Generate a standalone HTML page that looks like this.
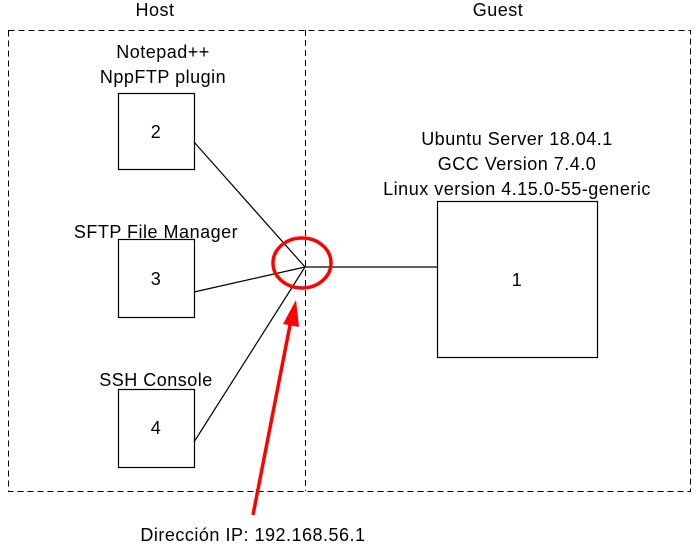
<!DOCTYPE html>
<html><head><style>body{margin:0;background:#fff}svg text{font-family:"Liberation Sans",sans-serif;font-size:18px;letter-spacing:0.5px;fill:#000}</style></head><body>
<svg width="696" height="544" viewBox="0 0 696 544" xmlns="http://www.w3.org/2000/svg">
<rect x="8.5" y="30.5" width="682" height="461" fill="none" stroke="#000" stroke-dasharray="6,4"/>
<line x1="305.5" y1="30" x2="305.5" y2="491" stroke="#000" stroke-dasharray="6,4"/>
<text x="155" y="16" text-anchor="middle">Host</text>
<text x="498" y="16" text-anchor="middle">Guest</text>
<g fill="none" stroke="#000" stroke-width="1.2">
<rect x="118.5" y="93.5" width="76" height="76"/>
<rect x="118.5" y="239.5" width="76" height="78"/>
<rect x="118.5" y="389.5" width="76" height="78"/>
<rect x="437.5" y="201.5" width="160" height="156"/>
<line x1="194" y1="142" x2="305" y2="267"/>
<line x1="194" y1="292" x2="305" y2="267"/>
<line x1="194" y1="442" x2="305" y2="267"/>
<line x1="305" y1="267" x2="437" y2="267"/>
</g>
<text x="156" y="138" text-anchor="middle">2</text>
<text x="156" y="285" text-anchor="middle">3</text>
<text x="156" y="434" text-anchor="middle">4</text>
<text x="517" y="286" text-anchor="middle">1</text>
<text x="163" y="58" text-anchor="middle">Notepad++</text>
<text x="163" y="83" text-anchor="middle">NppFTP plugin</text>
<text x="156" y="238" text-anchor="middle">SFTP File Manager</text>
<text x="156" y="386" text-anchor="middle">SSH Console</text>
<text x="517" y="145" text-anchor="middle">Ubuntu Server 18.04.1</text>
<text x="517" y="170" text-anchor="middle">GCC Version 7.4.0</text>
<text x="517" y="195" text-anchor="middle">Linux version 4.15.0-55-generic</text>
<ellipse cx="302" cy="263" rx="29" ry="25" fill="none" stroke="#f00" stroke-width="3.5"/>
<line x1="253" y1="515" x2="291" y2="320" stroke="#f00" stroke-width="3.5"/>
<polygon points="296,300 283,324 299,327" fill="#f00"/>
<text x="253" y="541" text-anchor="middle">Dirección IP: 192.168.56.1</text>
</svg>
</body></html>
